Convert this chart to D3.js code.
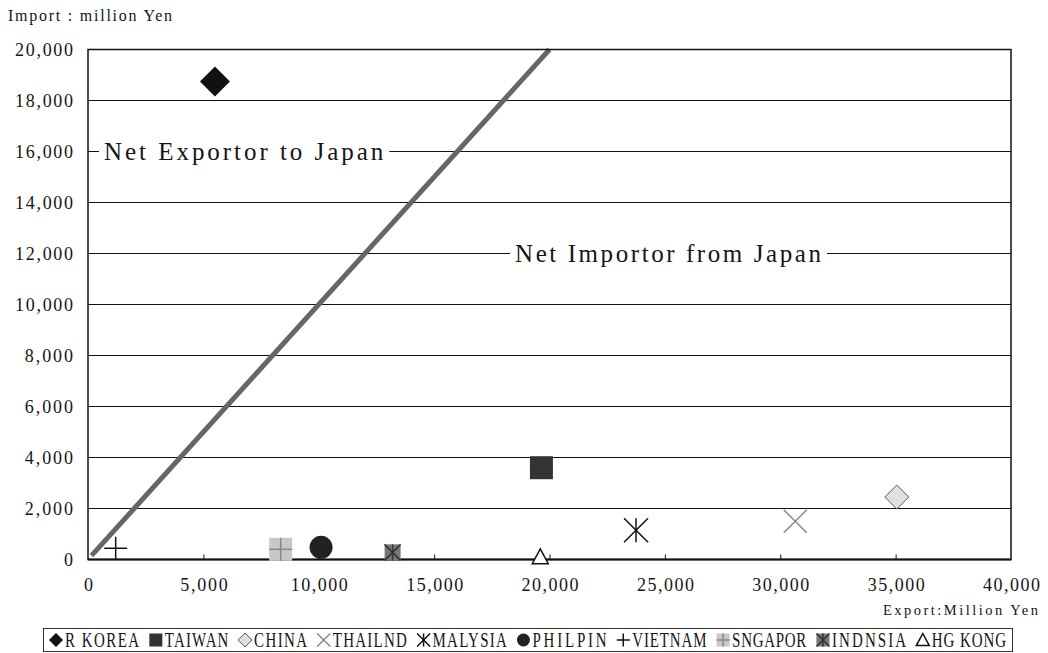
<!DOCTYPE html>
<html>
<head>
<meta charset="utf-8">
<script src="https://cdn.jsdelivr.net/npm/d3@7"></script>
<style>
  html, body { margin: 0; padding: 0; background: #fff; }
  svg { display: block; }
  text { font-family: "Liberation Serif", "DejaVu Serif", serif; fill: #151515; }
</style>
</head>
<body>
<svg id="chart" width="1048" height="653"></svg>
<script>
// Trade with Japan by country: export vs import, million Yen
const countries = ["R KOREA", "TAIWAN", "CHINA", "THAILND", "MALYSIA", "PHILPIN", "VIETNAM", "SNGAPOR", "INDNSIA", "HG KONG"];
const exportValues = [5500, 19650, 35050, 30650, 23750, 10100, 1200, 8350, 13200, 19600];
const importValues = [18750, 3600, 2450, 1500, 1150, 480, 440, 400, 280, 100];
const yTicks = [0, 2000, 4000, 6000, 8000, 10000, 12000, 14000, 16000, 18000, 20000];
const xTicks = [0, 5000, 10000, 15000, 20000, 25000, 30000, 35000, 40000];
const parityLine = [150, 20000];   // import = export
const regionLabels = ["Net Exportor to Japan", "Net Importor from Japan"];
const regionLabelLevels = [16000, 12000];

// Marker look for each country (same order as countries)
const markerStyles = [
  { shape: "diamond",    size: 30, fill: "#111" },
  { shape: "square",     size: 23, fill: "#333" },
  { shape: "diamond",    size: 24, fill: "#e0e0e0", stroke: "#555", sw: 1 },
  { shape: "x",          size: 23, stroke: "#888", sw: 1.5 },
  { shape: "asterisk",   size: 24, stroke: "#111", sw: 1.5 },
  { shape: "circle",     size: 23, fill: "#222" },
  { shape: "plus",       size: 23, stroke: "#111", sw: 1.5 },
  { shape: "plusSquare", size: 23, fill: "#c8c8c8", stroke: "#888", sw: 1.5 },
  { shape: "xSquare",    size: 16, fill: "#777", stroke: "#333", sw: 1.5 },
  { shape: "triangle",   size: 16, fill: "#fff", stroke: "#111", sw: 1.5 }
];

const svg = d3.select("#chart");
const plot = { left: 88, right: 1011, top: 49.5, bottom: 559.5 };

const x = d3.scaleLinear().domain([0, 40000]).range([plot.left, plot.right]);
const y = d3.scaleLinear().domain([0, 20000]).range([plot.bottom, plot.top]);
const fmt = d3.format(",");

// fixed-pitch look: stretch each string to a uniform cell width
const pitch = (sel, cell) => sel.each(function () {
  const n = this.textContent.length;
  if (n > 1) d3.select(this).attr("textLength", n * cell).attr("lengthAdjust", "spacing");
});

// Horizontal grid lines
svg.append("g").selectAll("line").data(yTicks.slice(1, -1)).join("line")
  .attr("x1", plot.left).attr("x2", plot.right)
  .attr("y1", d => y(d)).attr("y2", d => y(d))
  .attr("stroke", "#111").attr("stroke-width", 1);

// Parity line
svg.append("line")
  .attr("x1", x(parityLine[0])).attr("y1", y(parityLine[0]))
  .attr("x2", x(parityLine[1])).attr("y2", y(parityLine[1]))
  .attr("stroke", "#666").attr("stroke-width", 5);

// Region labels sitting on grid lines
const labelStarts = [104, 515];
regionLabels.forEach((t, i) => {
  const g = svg.append("g").attr("transform", `translate(${labelStarts[i]},${y(regionLabelLevels[i]) + 8})`);
  const txt = g.append("text").attr("x", 0).attr("y", 0).attr("font-size", 25).text(t);
  pitch(txt, 13.3);
  const w = t.length * 13.3;
  g.insert("rect", "text").attr("x", -5).attr("y", -20).attr("width", w + 11).attr("height", 26).attr("fill", "#fff");
});

// Axes
const yAxis = svg.append("g").attr("transform", `translate(${plot.left},0)`)
  .call(d3.axisLeft(y).tickValues(yTicks).tickSize(0).tickFormat(fmt));
yAxis.select(".domain").remove();
yAxis.selectAll("text")
  .attr("x", -15).attr("y", 6).attr("dy", null)
  .attr("font-size", 18).attr("font-family", null).attr("fill", "#151515")
  .call(pitch, 9.65);

const xAxis = svg.append("g").attr("transform", `translate(0,${plot.bottom})`)
  .call(d3.axisBottom(x).tickValues(xTicks).tickSize(0).tickFormat(fmt));
xAxis.select(".domain").remove();
xAxis.selectAll("text")
  .attr("x", 0).attr("y", 31).attr("dy", null)
  .attr("font-size", 18).attr("font-family", null).attr("fill", "#151515")
  .call(pitch, 9.5);
// small inward tick marks
xAxis.selectAll(".tick").filter(d => d > 0 && d < 40000).append("line")
  .attr("y1", 0).attr("y2", -5).attr("stroke", "#111").attr("stroke-width", 1);

// Plot frame
svg.append("rect")
  .attr("x", plot.left).attr("y", plot.top)
  .attr("width", plot.right - plot.left).attr("height", plot.bottom - plot.top)
  .attr("fill", "none").attr("stroke", "#111").attr("stroke-width", 1.5);
svg.append("line")
  .attr("x1", plot.left).attr("x2", plot.right).attr("y1", y(0)).attr("y2", y(0))
  .attr("stroke", "#111").attr("stroke-width", 2);

// Marker drawing
function drawMarker(g, st, scale) {
  const s = st.size * (scale || 1), r = s / 2;
  const sw = st.sw || 1;
  const lines = segs => segs.forEach(p => g.append("line")
    .attr("x1", p[0]).attr("y1", p[1]).attr("x2", p[2]).attr("y2", p[3])
    .attr("stroke", st.stroke).attr("stroke-width", sw));
  switch (st.shape) {
    case "diamond":
      g.append("path").attr("d", `M0,${-r}L${r},0L0,${r}L${-r},0Z`)
        .attr("fill", st.fill).attr("stroke", st.stroke || "none").attr("stroke-width", sw);
      break;
    case "square":
      g.append("rect").attr("x", -r).attr("y", -r).attr("width", s).attr("height", s).attr("fill", st.fill);
      break;
    case "circle":
      g.append("circle").attr("r", r).attr("fill", st.fill);
      break;
    case "x":
      lines([[-r, -r, r, r], [-r, r, r, -r]]);
      break;
    case "asterisk":
      lines([[-r, -r, r, r], [-r, r, r, -r], [0, -r, 0, r]]);
      break;
    case "plus":
      lines([[-r, 0, r, 0], [0, -r, 0, r]]);
      break;
    case "plusSquare":
      g.append("rect").attr("x", -r).attr("y", -r).attr("width", s).attr("height", s).attr("fill", st.fill);
      lines([[-r, 0, r, 0], [0, -r, 0, r]]);
      break;
    case "xSquare":
      g.append("rect").attr("x", -r).attr("y", -r).attr("width", s).attr("height", s).attr("fill", st.fill);
      lines([[-r, -r, r, r], [-r, r, r, -r], [0, -r, 0, r]]);
      break;
    case "triangle":
      g.append("path").attr("d", `M0,${-r}L${r},${r * 0.85}L${-r},${r * 0.85}Z`)
        .attr("fill", st.fill).attr("stroke", st.stroke).attr("stroke-width", sw);
      break;
  }
}

countries.forEach((c, i) => {
  const g = svg.append("g").attr("transform", `translate(${x(exportValues[i])},${y(importValues[i])})`);
  drawMarker(g, markerStyles[i]);
});

// Axis titles
svg.append("text").attr("x", 8).attr("y", 21)
  .attr("font-size", 16).text("Import : million Yen")
  .attr("textLength", 164).attr("lengthAdjust", "spacing");
svg.append("text").attr("x", 883).attr("y", 615)
  .attr("font-size", 14.5).text("Export:Million Yen")
  .attr("textLength", 155).attr("lengthAdjust", "spacing");

// Legend
const legendBox = { x: 43, y: 628, w: 969, h: 23 };
svg.append("rect").attr("x", legendBox.x + 0.5).attr("y", legendBox.y + 0.5)
  .attr("width", legendBox.w).attr("height", legendBox.h)
  .attr("fill", "#fff").attr("stroke", "#333").attr("stroke-width", 1);

const legend = svg.append("g");
const items = countries.map((c, i) => {
  const g = legend.append("g");
  const m = g.append("g").attr("transform", `translate(7,0)`);
  drawMarker(m, markerStyles[i], (markerStyles[i].shape === "diamond" ? 14 : 13) / markerStyles[i].size);
  g.append("text").attr("transform", "translate(16,6.5) scale(1,1.35)")
    .attr("font-size", 15).text(c).call(pitch, 10.6);
  return { g, w: 16 + c.length * 10.6 };
});
const totalW = d3.sum(items, d => d.w);
const pad = 6;
const gap = (legendBox.w - 2 * pad - totalW) / (items.length - 1);
let cx = legendBox.x + pad;
items.forEach(it => {
  it.g.attr("transform", `translate(${cx},${legendBox.y + 12})`);
  cx += it.w + gap;
});
</script>
</body>
</html>
